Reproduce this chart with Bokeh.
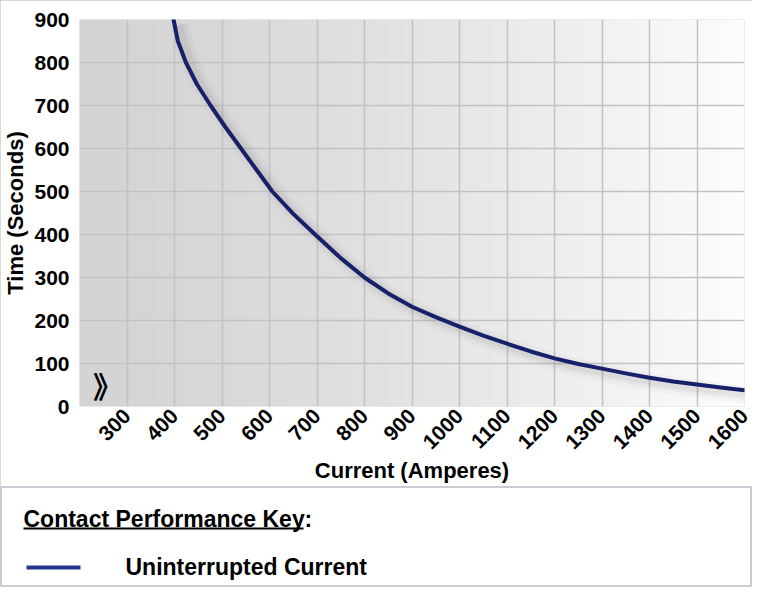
import numpy as np
from bokeh.plotting import figure
from bokeh.models import FixedTicker, Label, Range1d
from bokeh.core.properties import value
from bokeh.embed import file_html
from bokeh.resources import INLINE

# ---- data ----
current_a = [398, 407, 424, 447, 476, 507, 540, 573, 606, 650, 696, 750, 800, 850, 900, 950,
             1000, 1050, 1100, 1150, 1200, 1250, 1300, 1350, 1400, 1450, 1500, 1550, 1600]
time_s = [900, 850, 800, 750, 700, 650, 600, 550, 500, 448, 400, 345, 300, 263, 232, 208,
          186, 165, 146, 128, 112, 99, 88, 77, 67, 58, 51, 44, 38]
x_ticks = [200, 300, 400, 500, 600, 700, 800, 900, 1000, 1100, 1200, 1300, 1400, 1500, 1600]
y_ticks = [0, 100, 200, 300, 400, 500, 600, 700, 800, 900]
series_name = "Uninterrupted Current"
key_title = "Contact Performance Key"
x_title = "Current (Amperes)"
y_title = "Time (Seconds)"

FONT = "Liberation Sans"
NAVY = "#17206b"

p = figure(width=752, height=486, x_range=Range1d(200, 1600), y_range=Range1d(0, 900),
           output_backend="svg", toolbar_location=None,
           min_border_left=79, min_border_right=8, min_border_top=19, min_border_bottom=76)
p.outline_line_color = None
p.background_fill_color = "#d6d6d6"
p.border_fill_color = "white"
p.styles = {"outline": "2px solid #cccccc", "outline-offset": "-2px"}

# horizontal gradient background (grey -> white)
n = 300
t = np.linspace(0, 1, n)
shade = (212 + 41 * t ** 1.4).clip(0, 255).astype(np.uint8)
img = np.zeros((1, n), dtype=np.uint32)
view = img.view(dtype=np.uint8).reshape((1, n, 4))
view[0, :, 0] = shade
view[0, :, 1] = shade
view[0, :, 2] = shade
view[0, :, 3] = 255
p.image_rgba(image=[img], x=p.x_range.start, y=p.y_range.start,
             dw=p.x_range.end - p.x_range.start, dh=p.y_range.end - p.y_range.start,
             level="image")

# grid
p.xgrid.ticker = FixedTicker(ticks=x_ticks)
p.ygrid.ticker = FixedTicker(ticks=y_ticks)
p.grid.grid_line_color = "#c2c2c2"
p.grid.grid_line_width = 1.5

# axes
for ax in (p.xaxis[0], p.yaxis[0]):
    ax.major_tick_line_color = None
    ax.minor_tick_line_color = None
    ax.axis_line_color = None
    ax.major_label_text_font = FONT
    ax.major_label_text_font_style = "bold"
    ax.major_label_text_font_size = "21px"
    ax.major_label_text_color = "black"
    ax.axis_label_text_font = FONT
    ax.axis_label_text_font_style = "bold"
    ax.axis_label_text_font_size = "22px"
    ax.axis_label_text_color = "black"

p.xaxis.ticker = FixedTicker(ticks=x_ticks)
p.xaxis.major_label_overrides = {200: ""}
p.xaxis.major_label_orientation = np.pi / 4
p.xaxis.major_label_standoff = 0
p.xaxis.axis_label = x_title
p.xaxis.axis_label_standoff = 0

p.yaxis.ticker = FixedTicker(ticks=y_ticks)
p.yaxis.major_label_standoff = 4
p.yaxis.axis_label = y_title
p.yaxis.axis_label_standoff = 3

# soft shadow under the curve
for w, a in ((18, 0.035), (11, 0.05), (6, 0.06)):
    p.line([c + 14 for c in current_a], [s - 12 for s in time_s],
           line_color="#555555", line_alpha=a, line_width=w, line_join="round")

# curve
p.line(current_a, time_s, line_color=NAVY, line_width=4, line_join="round", line_cap="round")

# axis break mark (kept inside the plot area, which clips annotations)
p.add_layout(Label(x=260, y=0, y_offset=0, text="》", text_font="Noto Sans CJK SC",
                   text_font_size="30px", text_font_style="bold",
                   text_align="center", text_baseline="bottom", text_color="black"))

# ---- key panel ----
k = figure(width=752, height=101, x_range=Range1d(0, 752), y_range=Range1d(101, 0),
           x_axis_type=None, y_axis_type=None, min_border=0,
           output_backend="svg", toolbar_location=None)
k.grid.visible = False
k.outline_line_color = "#c9cdd1"
k.outline_line_width = 3
k.background_fill_color = "white"

k.text(x=[23], y=[32], text=[key_title], text_font=value(FONT), text_font_style="bold",
       text_font_size="23px", text_baseline="middle", text_color="black")
k.text(x=[304], y=[32], text=[":"], text_font=value(FONT), text_font_style="bold",
       text_font_size="23px", text_baseline="middle", text_color="black")
k.segment(x0=[23], y0=[42], x1=[303], y1=[42], line_color="black", line_width=2)

k.line(x=[26, 80], y=[81, 81], line_color="#23378a", line_width=4)
k.text(x=[125], y=[80], text=[series_name], text_font=value(FONT), text_font_style="bold",
       text_font_size="23px", text_baseline="middle", text_color="black")

open("out.html", "w").write(file_html([p, k], INLINE))
